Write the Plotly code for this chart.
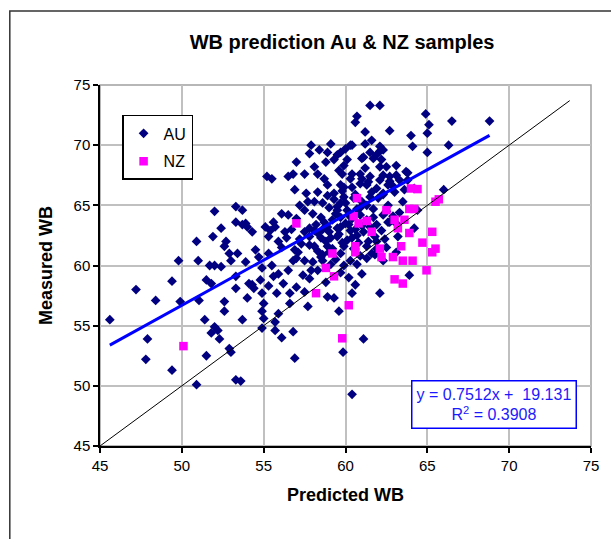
import plotly.graph_objects as go

# ---- data ----
au_x = [45.6,47.2,48.4,49.4,49.8,49.9,47.9,47.8,49.4,50.9,51.4,51.5,51.0,51.05,51.8,52.0,52.2,52.3,52.6,52.6,
        52.9,53.3,51.5,51.8,51.7,52.0,52.4,53.0,52.9,52.0,52.4,51.9,50.9,52.7,52.6,53.3,53.3,53.9,54.3,53.4,
        53.9,54.5,53.7,54.0,53.7,53.0,53.3,53.3,54.3,54.9,54.9,57.7,57.8,58.3,55.7,
        61.5,60.7,60.6,61.2,61.6,61.2,60.4,59.1,57.9,58.4,57.8,59.5,59.3,58.8,59.9,61.1,61.7,57.0,56.8,57.5,
        58.3,58.7,60.4,60.3,55.2,55.5,58.9,59.7,60.9,61.4,56.9,57.6,59.3,59.9,58.1,58.6,59.7,59.5,60.1,57.2,
        57.5,56.1,56.5,55.6,55.4,55.1,57.7,58.0,58.2,58.9,59.5,56.3,57.5,55.9,58.5,59.1,58.1,56.5,55.3,55.7,
        62.1,64.9,66.5,68.8,65.1,62.7,64.0,65.0,64.1,65.0,66.3,62.1,62.3,61.9,62.2,63.1,62.5,62.1,63.8,63.1,
        62.7,62.3,62.1,62.6,63.3,63.0,62.3,62.0,63.5,62.6,66.0,64.4,64.2,62.6,63.2,61.9,
        62.3,63.1,63.9,62.1,
        61.1,59.85,56.9,60.4,53.6,59.6,56.8,56.1,55.7,54.9,53.7,60.6,60.4,58.9,59.3,57.5,56.6,55.8,56.6,55.0,
        54.0,54.9,55.0,55.9,61.3,55.9,55.6,56.5,54.8,54.1,54.4,55.5,57.5,57.9,58.5,57.1,54.7,
        59.7,60.3,60.1,61.0,61.5,62.1,61.2,59.8,60.9,61.5,63.7,59.9,60.4,61.3,61.9,62.7,63.8,64.2,61.5,62.3,
        63.6,59.5,60.7,61.7,62.5,59.7,60.4,61.3,62.7,59.7,60.3,59.5,60.1,60.7,61.8,63.1,61.9,61.3,60.5,59.7,
        60.3,59.9,
        56.9,57.8,58.6,59.2,58.1,58.9,58.6,
        58.5,59.0,59.3,60.0,60.6,61.0,60.9,61.5,61.1,60.0,59.2,58.7,58.3,58.8,59.9,60.8,62.2,62.4,61.6,60.9,
        59.4,57.2,57.0,56.7,57.8,56.1,55.3,56.8,57.4,56.2,58.8,59.7,61.0,60.2,57.0,55.3,61.7,62.9,63.3,61.0,
        59.6,58.1,60.0,58.9,
        59.0,59.6,60.2,60.6,61.0,61.4,60.4,59.8,59.0,58.3,58.6,59.4,60.2,60.9,61.3,60.5,59.8,58.9,58.3,57.8,
        57.3,56.4,57.0,58.0,59.1,60.7,61.8,62.5,61.9,62.3,61.6,62.9]
au_y = [55.5,58.0,57.1,58.7,60.4,57.0,53.9,52.2,51.3,50.1,55.5,52.5,60.4,57.1,54.4,54.9,54.6,53.9,57.0,56.2,
        53.1,50.5,58.8,58.5,60.0,60.0,59.9,60.4,61.0,64.5,63.1,62.4,62.0,62.0,61.6,64.9,63.6,63.5,62.8,61.0,
        60.3,61.3,64.6,63.2,63.4,52.8,58.1,59.1,58.4,57.7,59.8,56.6,58.9,59.6,55.3,
        73.3,72.4,71.9,71.1,70.4,70.1,70.0,70.1,70.0,69.6,69.3,69.2,68.8,68.6,68.3,69.0,68.9,68.6,67.6,67.6,
        67.6,67.2,67.6,67.2,67.4,67.2,66.7,66.7,66.8,66.95,66.3,66.0,66.0,65.7,65.3,65.2,65.2,64.6,64.6,65.0,
        64.6,64.3,64.2,63.6,62.9,63.2,65.3,64.3,63.4,63.2,63.1,62.8,62.8,62.0,62.3,62.3,61.6,67.4,62.4,63.2,
        73.3,72.6,72.0,72.0,71.7,71.2,70.8,71.0,69.9,69.4,70.0,69.9,69.6,69.2,68.8,68.3,68.2,68.2,67.7,67.5,
        67.4,67.5,67.1,66.7,67.1,66.1,66.0,65.6,65.3,65.0,66.3,64.6,63.1,63.6,62.4,62.0,
        60.4,61.1,59.2,57.7,
        53.9,52.8,52.3,49.3,50.4,56.2,54.5,54.0,54.6,54.8,55.5,58.4,57.7,57.4,57.3,57.8,57.7,57.7,56.85,56.85,
        57.3,56.2,55.6,56.0,60.6,59.3,59.1,59.6,58.8,58.5,58.1,60.0,60.4,59.6,60.7,61.1,60.7,
        69.4,70.0,68.8,68.9,69.4,69.5,68.1,67.6,67.6,67.4,67.8,66.5,66.5,66.7,66.4,67.0,67.1,66.4,65.7,65.9,
        66.3,64.9,64.7,64.7,64.5,64.0,63.9,63.8,63.6,63.2,62.9,62.4,62.1,62.5,62.4,63.5,61.4,61.6,61.4,61.0,
        60.4,60.0,
        61.3,61.7,60.9,61.4,62.9,61.6,60.4,
        64.0,64.8,65.5,65.2,65.9,65.3,64.2,63.2,62.8,63.5,63.8,63.6,62.7,62.0,61.6,61.9,62.9,62.2,61.0,60.8,
        60.5,62.2,63.9,63.0,63.1,61.5,61.0,60.4,59.2,58.5,58.6,59.4,59.3,59.0,58.2,58.3,64.0,64.1,64.4,67.2,
        67.9,68.2,69.7,69.4,
        62.8,62.6,63.4,63.0,63.3,62.0,62.3,61.9,61.1,61.2,63.0,64.3,64.2,64.8,65.0,65.6,66.2,65.8,66.1,62.4,
        61.8,62.3,60.6,60.3,60.1,60.1,60.9,61.5,63.4,64.2,66.1,66.6]

nz_x = [57.0,60.7,60.5,61.3,61.6,60.6,64.0,64.4,62.5,63.9,64.2,63.0,63.6,65.5,65.7,63.2,63.9,65.3,64.7,65.5,
        63.4,62.2,62.9,63.5,64.1,65.3,64.95,63.0,63.5,59.8,60.2,58.2,59.3,58.8,59.2,60.6,50.1,60.8,62.1]
nz_y = [63.5,65.6,64.1,63.7,62.8,61.6,66.4,66.35,64.6,64.7,64.7,63.8,63.8,65.3,65.5,63.1,62.7,62.8,61.9,61.4,
        61.6,60.7,60.7,60.4,60.4,61.1,59.6,58.85,58.5,53.95,56.7,57.7,59.1,59.8,61.0,61.1,53.3,63.5,61.4]

# trend line parameters as printed on the chart
slope = 0.7512
intercept = 19.131
r2 = 0.3908

# 1:1 reference line end points
diag = [45, 73.7]

x_ticks = [45, 50, 55, 60, 65, 70, 75]
y_ticks = [45, 50, 55, 60, 65, 70, 75]

FONT = "Liberation Sans, Arial, sans-serif"

tx = [min(au_x), max(au_x)]
ty = [slope * v + intercept for v in tx]

fig = go.Figure()
fig.add_trace(go.Scatter(x=au_x, y=au_y, mode="markers", name="AU", legendgroup="AU",
                         marker=dict(symbol="diamond", size=7.5, color="#000080")))
fig.add_trace(go.Scatter(x=nz_x, y=nz_y, mode="markers", name="NZ", legendgroup="NZ",
                         marker=dict(symbol="square", size=8.5, color="#FF00FF")))
fig.add_trace(go.Scatter(x=diag, y=diag, mode="lines", showlegend=False, hoverinfo="skip",
                         line=dict(color="black", width=1)))
fig.add_trace(go.Scatter(x=tx, y=ty, mode="lines", showlegend=False, hoverinfo="skip",
                         line=dict(color="#0000FF", width=3)))

axis_common = dict(range=[45, 75], tickmode="array", showgrid=True, gridcolor="#c0c0c0", gridwidth=2,
                   zeroline=False, showline=True, linecolor="black", linewidth=1.5,
                   ticks="outside", ticklen=5, tickcolor="black", tickwidth=1.5,
                   tickfont=dict(family=FONT, size=15, color="black"))

fig.update_xaxes(**axis_common, tickvals=x_ticks, ticktext=[str(t) for t in x_ticks],
                 title=dict(text="<b>Predicted WB</b>", font=dict(family=FONT, size=18, color="black"),
                            standoff=16))
fig.update_yaxes(**axis_common, tickvals=y_ticks, ticktext=[str(t) for t in y_ticks],
                 title=dict(text="<b>Measured WB</b>", font=dict(family=FONT, size=18, color="black"),
                            standoff=16))

fig.update_layout(
    width=611, height=539,
    margin=dict(l=100, r=13, t=85, b=93),
    paper_bgcolor="white", plot_bgcolor="white",
    title=dict(text="<b>WB prediction Au & NZ samples</b>", x=0.493, xref="paper", xanchor="center",
               y=1 - 42 / 539, yref="container", yanchor="middle",
               font=dict(family=FONT, size=20, color="black")),
    showlegend=True,
    legend=dict(x=0.045, y=0.917, xanchor="left", yanchor="top", bgcolor="white",
                bordercolor="black", borderwidth=1.5, tracegroupgap=4,
                font=dict(family=FONT, size=16, color="black")),
    shapes=[
        dict(type="rect", xref="paper", yref="paper", x0=0, x1=1, y0=0, y1=1,
             line=dict(color="#a0a0a0", width=1.5), layer="between"),
        dict(type="rect", xref="paper", yref="paper", x0=-0.1837, x1=1.06, y0=-0.3, y1=1.205,
             line=dict(color="#333333", width=1.5), layer="below"),
    ],
    annotations=[
        dict(text="y = 0.7512x +  19.131<br>R<sup>2</sup> = 0.3908", xref="paper", yref="paper",
             x=0.802, y=0.1136, xanchor="center", yanchor="middle", showarrow=False,
             font=dict(family=FONT, size=16, color="#1a1aff"), align="center",
             bgcolor="white", bordercolor="#0000FF", borderwidth=1.5, borderpad=4),
    ],
)

fig.write_html("out.html")
